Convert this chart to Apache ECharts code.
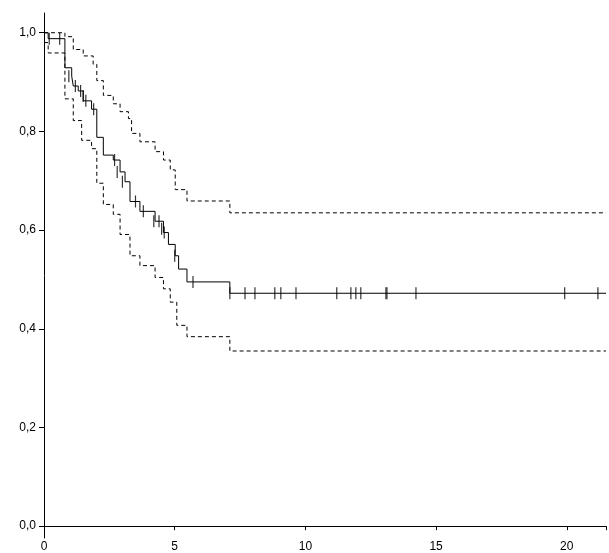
<!DOCTYPE html>
<html><head><meta charset="utf-8">
<script src="https://cdn.jsdelivr.net/npm/echarts@6/dist/echarts.min.js"></script>
<style>html,body{margin:0;padding:0;background:#fff}#c{width:609px;height:553px}</style>
</head><body><div id="c"></div>
<script>
// survival estimate, step points [time, value]
let survival = [[0,1.0],[0.16,0.988],[0.8,0.929],[1.06,0.912],[1.12,0.892],[1.31,0.882],[1.5,0.862],[1.82,0.845],[2.02,0.788],[2.27,0.752],[2.65,0.742],[2.91,0.718],[3.1,0.698],[3.29,0.658],[3.67,0.638],[4.25,0.618],[4.57,0.595],[4.76,0.571],[5.02,0.548],[5.15,0.521],[5.47,0.495],[7.11,0.472],[21.5,0.472]];
let upper = [[0,1.0],[0.8,0.992],[1.12,0.966],[1.5,0.953],[1.88,0.936],[2.02,0.903],[2.27,0.873],[2.65,0.856],[2.91,0.84],[3.23,0.826],[3.35,0.796],[3.67,0.779],[4.25,0.759],[4.57,0.742],[4.83,0.722],[5.02,0.682],[5.47,0.659],[7.11,0.635],[21.5,0.635]];
let lower = [[0,0.98],[0.16,0.959],[0.8,0.866],[1.12,0.822],[1.44,0.782],[1.82,0.765],[2.02,0.695],[2.27,0.652],[2.65,0.632],[2.91,0.591],[3.29,0.548],[3.67,0.528],[4.25,0.504],[4.57,0.481],[4.83,0.454],[5.08,0.407],[5.47,0.384],[7.11,0.355],[21.5,0.355]];
let censored = [[0.2,0.988],[0.6,0.988],[0.95,0.912],[1.2,0.892],[1.4,0.882],[1.5,0.872],[1.6,0.862],[1.9,0.845],[2.7,0.742],[2.8,0.718],[3.0,0.698],[3.5,0.658],[3.8,0.638],[4.2,0.618],[4.4,0.618],[4.5,0.603],[4.6,0.595],[5.0,0.548],[5.7,0.495],[7.11,0.472],[7.69,0.472],[8.07,0.472],[8.83,0.472],[9.06,0.472],[9.64,0.472],[11.2,0.472],[11.74,0.472],[11.93,0.472],[12.12,0.472],[13.08,0.472],[13.12,0.472],[14.23,0.472],[19.92,0.472],[21.19,0.472]];
let xTicks = [0,5,10,15,20];
let yTicks = [0,0.2,0.4,0.6,0.8,1.0];

let chart = echarts.init(document.getElementById('c'));
chart.setOption({
    animation: false,
    grid: {left: 44, right: 2, top: 13, bottom: 10},
    xAxis: {
        type: 'value', min: 0, max: 21.5, interval: 5,
        axisLine: {lineStyle: {color: '#000'}},
        axisTick: {show: true, lineStyle: {color: '#000'}, length: 4},
        axisLabel: {color: '#000', fontSize: 12, margin: 3, fontFamily: 'Liberation Sans',
            formatter: v => xTicks.indexOf(v) >= 0 ? String(v) : ''},
        splitLine: {show: false}
    },
    yAxis: {
        type: 'value', min: -0.024, max: 1.04,
        axisLine: {show: true, lineStyle: {color: '#000'}},
        axisTick: {show: true, lineStyle: {color: '#000'}, length: 5, customValues: yTicks},
        axisLabel: {color: '#000', fontSize: 12, fontFamily: 'Liberation Sans', customValues: yTicks,
            formatter: v => v.toFixed(1).replace('.', ',')},
        splitLine: {show: false}
    },
    series: [
        {type: 'line', step: 'end', data: survival, symbol: 'none', lineStyle: {color: '#000', width: 1}},
        {type: 'line', step: 'end', data: upper, symbol: 'none', lineStyle: {color: '#000', width: 1, type: [4, 3]}},
        {type: 'line', step: 'end', data: lower, symbol: 'none', lineStyle: {color: '#000', width: 1, type: [4, 3]}},
        {type: 'scatter', data: censored, symbol: 'rect', symbolSize: [1.2, 12], itemStyle: {color: '#000'}}
    ]
});
</script></body></html>
